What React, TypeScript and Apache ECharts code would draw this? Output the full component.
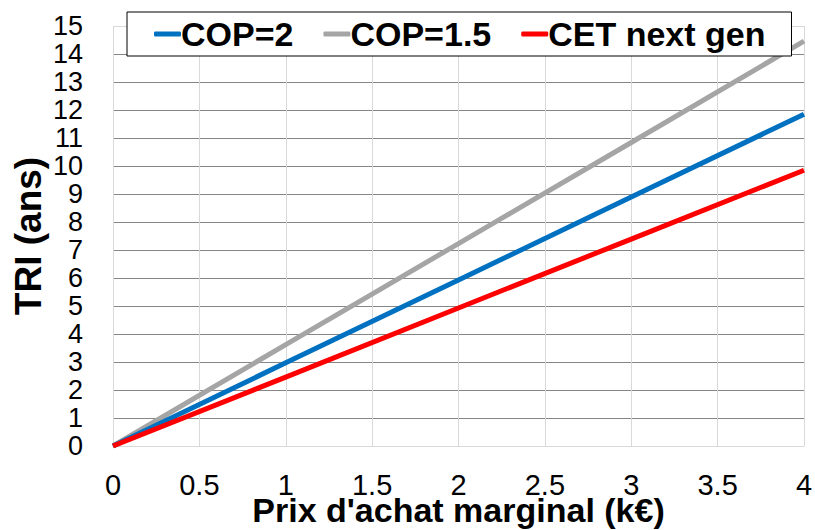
import React, { useEffect, useRef } from "react";
import * as echarts from "echarts";

const xValues = [0, 1, 2, 3, 4];
const cop2 = [0, 2.97, 5.93, 8.89, 11.85];
const cop15 = [0, 3.62, 7.23, 10.84, 14.46];
const cetNextGen = [0, 2.46, 4.93, 7.39, 9.85];
const seriesNames = ["COP=2", "COP=1.5", "CET next gen"];
const xTitle = "Prix d'achat marginal (k€)";
const yTitle = "TRI (ans)";

const FONT = "'Liberation Sans', Arial, sans-serif";

export default function App() {
  const ref = useRef<HTMLDivElement>(null);
  useEffect(() => {
    if (!ref.current) return;
    const chart = echarts.init(ref.current, undefined, { renderer: "svg" });
    const yLineColors: string[] = [];
    for (let i = 0; i <= 15; i++) {
      yLineColors.push(i === 0 || i === 15 ? "#d9d9d9" : "#868686");
    }
    const mk = (vals: number[]) => xValues.map((x, i) => [x, vals[i]]);
    chart.setOption({
      animation: false,
      backgroundColor: "#ffffff",
      textStyle: { fontFamily: FONT },
      grid: { left: 113, right: 11, top: 26, bottom: 84, outerBoundsMode: "none", containLabel: false },
      legend: {
        left: 127,
        top: 12,
        data: seriesNames,
        icon: "roundRect",
        itemWidth: 27,
        itemHeight: 5,
        itemGap: 30,
        borderColor: "#000000",
        borderWidth: 1,
        borderRadius: 0,
        backgroundColor: "#ffffff",
        padding: [5, 26, 5, 27],
        textStyle: {
          fontFamily: FONT,
          fontSize: 34,
          fontWeight: "bold",
          color: "#000000",
          padding: [0, 0, 0, -5],
        },
      },
      xAxis: {
        type: "value",
        min: 0,
        max: 4,
        interval: 0.5,
        name: xTitle,
        nameLocation: "middle",
        nameGap: 47,
        nameMoveOverlap: false,
        nameTextStyle: { fontFamily: FONT, fontSize: 34, fontWeight: "bold", color: "#000000" },
        axisLine: { show: true, lineStyle: { color: "#d9d9d9", width: 1 } },
        axisTick: { show: false },
        axisLabel: {
          fontFamily: FONT,
          fontSize: 29,
          color: "#000000",
          margin: 24,
          showMinLabel: true,
          showMaxLabel: true,
        },
        splitLine: { show: true, lineStyle: { color: "#d9d9d9", width: 1 } },
      },
      yAxis: {
        type: "value",
        min: 0,
        max: 15,
        interval: 1,
        name: yTitle,
        nameLocation: "middle",
        nameGap: 66,
        nameRotate: 90,
        nameMoveOverlap: false,
        nameTextStyle: { fontFamily: FONT, fontSize: 37, fontWeight: "bold", color: "#000000" },
        axisLine: { show: false },
        axisTick: { show: false },
        axisLabel: {
          fontFamily: FONT,
          fontSize: 27,
          color: "#000000",
          margin: 30,
          showMinLabel: true,
          showMaxLabel: true,
        },
        splitLine: { show: true, lineStyle: { color: yLineColors, width: 1 } },
      },
      series: [
        {
          name: seriesNames[0],
          type: "line",
          data: mk(cop2),
          showSymbol: false,
          symbol: "none",
          lineStyle: { color: "#0070C0", width: 5 },
          itemStyle: { color: "#0070C0" },
          z: 3,
        },
        {
          name: seriesNames[1],
          type: "line",
          data: mk(cop15),
          showSymbol: false,
          symbol: "none",
          lineStyle: { color: "#A5A5A5", width: 5 },
          itemStyle: { color: "#A5A5A5" },
          z: 2,
        },
        {
          name: seriesNames[2],
          type: "line",
          data: mk(cetNextGen),
          showSymbol: false,
          symbol: "none",
          lineStyle: { color: "#FF0000", width: 5 },
          itemStyle: { color: "#FF0000" },
          z: 4,
        },
      ],
    });
    return () => chart.dispose();
  }, []);
  return <div ref={ref} style={{ width: 815, height: 530, position: "absolute", left: 0, top: 0 }} />;
}
